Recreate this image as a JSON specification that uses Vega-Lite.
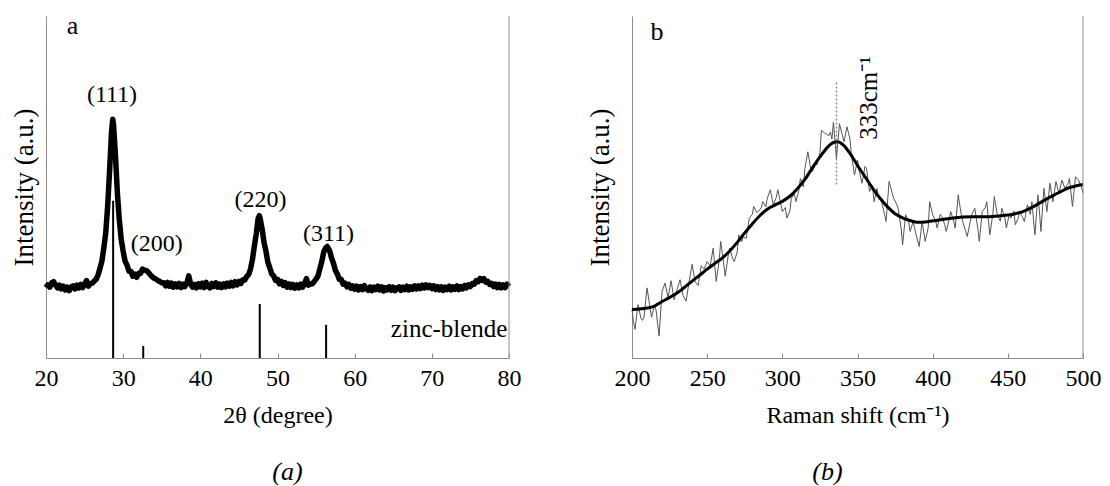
{
  "$schema": "https://vega.github.io/schema/vega-lite/v6.json",
  "background": "white",
  "padding": {"left": 10, "top": 13, "right": 5, "bottom": 2},
  "spacing": 123,
  "bounds": "flush",
  "config": {
    "font": "Liberation Serif, Times New Roman, Times, serif",
    "view": {"stroke": null},
    "axis": {"grid": false, "domainColor": "#8c8c8c", "tickColor": "#8c8c8c", "labelColor": "#000", "titleColor": "#000", "labelFont": "Liberation Serif, Times New Roman, Times, serif", "titleFont": "Liberation Serif, Times New Roman, Times, serif", "labelFontSize": 24, "titleFontSize": 24, "titleFontWeight": "normal"},
    "title": {"font": "Liberation Serif, Times New Roman, Times, serif", "fontWeight": "normal", "color": "#000"},
    "text": {"font": "Liberation Serif, Times New Roman, Times, serif", "color": "#000"}
  },
  "datasets": {
    "xrd": [
      {"x":20.0,"y":20.6},{"x":20.25,"y":21.4},{"x":20.5,"y":20.7},{"x":20.75,"y":22.0},{"x":21.0,"y":22.3},{"x":21.25,"y":21.3},{"x":21.5,"y":20.5},{"x":21.75,"y":21.3},{"x":22.0,"y":20.2},{"x":22.25,"y":21.0},{"x":22.5,"y":19.9},{"x":22.75,"y":20.7},{"x":23.0,"y":19.7},{"x":23.25,"y":20.8},{"x":23.5,"y":21.1},{"x":23.75,"y":20.2},{"x":24.0,"y":21.3},{"x":24.25,"y":20.5},{"x":24.5,"y":21.5},{"x":24.75,"y":20.6},{"x":25.0,"y":21.6},{"x":25.25,"y":22.6},{"x":25.5,"y":21.0},{"x":25.75,"y":21.8},{"x":26.0,"y":21.9},{"x":26.25,"y":22.5},{"x":26.5,"y":23.0},{"x":26.75,"y":24.3},{"x":27.0,"y":26.2},{"x":27.25,"y":28.4},{"x":27.5,"y":32.3},{"x":27.75,"y":36.8},{"x":28.0,"y":44.7},{"x":28.25,"y":55.2},{"x":28.5,"y":66.3},{"x":28.65,"y":69.8},{"x":28.75,"y":68.2},{"x":29.0,"y":59.3},{"x":29.25,"y":48.2},{"x":29.5,"y":40.4},{"x":29.75,"y":34.6},{"x":30.0,"y":31.2},{"x":30.25,"y":28.3},{"x":30.5,"y":27.2},{"x":30.75,"y":25.4},{"x":31.0,"y":25.4},{"x":31.25,"y":23.9},{"x":31.5,"y":24.5},{"x":31.75,"y":23.6},{"x":32.0,"y":24.8},{"x":32.25,"y":24.7},{"x":32.5,"y":26.0},{"x":32.75,"y":25.7},{"x":33.0,"y":25.6},{"x":33.25,"y":25.1},{"x":33.5,"y":24.4},{"x":33.75,"y":23.8},{"x":34.0,"y":23.3},{"x":34.25,"y":23.1},{"x":34.5,"y":22.6},{"x":34.75,"y":22.4},{"x":35.0,"y":22.0},{"x":35.25,"y":22.0},{"x":35.5,"y":21.1},{"x":35.75,"y":22.1},{"x":36.0,"y":21.0},{"x":36.25,"y":21.9},{"x":36.5,"y":20.7},{"x":36.75,"y":21.7},{"x":37.0,"y":20.8},{"x":37.25,"y":21.8},{"x":37.5,"y":20.6},{"x":37.75,"y":21.6},{"x":38.0,"y":20.9},{"x":38.25,"y":21.9},{"x":38.5,"y":24.0},{"x":38.75,"y":21.6},{"x":39.0,"y":20.7},{"x":39.25,"y":21.5},{"x":39.5,"y":20.5},{"x":39.75,"y":21.7},{"x":40.0,"y":20.8},{"x":40.25,"y":21.9},{"x":40.5,"y":20.6},{"x":40.75,"y":22.1},{"x":41.0,"y":21.0},{"x":41.25,"y":20.5},{"x":41.5,"y":21.8},{"x":41.75,"y":20.9},{"x":42.0,"y":22.0},{"x":42.25,"y":20.7},{"x":42.5,"y":21.6},{"x":42.75,"y":20.6},{"x":43.0,"y":21.7},{"x":43.25,"y":20.8},{"x":43.5,"y":21.9},{"x":43.75,"y":21.0},{"x":44.0,"y":22.1},{"x":44.25,"y":21.1},{"x":44.5,"y":22.3},{"x":44.75,"y":21.4},{"x":45.0,"y":22.4},{"x":45.25,"y":21.8},{"x":45.5,"y":22.9},{"x":45.75,"y":22.8},{"x":46.0,"y":23.8},{"x":46.25,"y":24.4},{"x":46.5,"y":26.0},{"x":46.75,"y":28.8},{"x":47.0,"y":32.7},{"x":47.25,"y":36.3},{"x":47.5,"y":40.9},{"x":47.65,"y":41.6},{"x":47.75,"y":40.8},{"x":48.0,"y":37.8},{"x":48.25,"y":33.8},{"x":48.5,"y":31.3},{"x":48.75,"y":28.0},{"x":49.0,"y":26.4},{"x":49.25,"y":24.6},{"x":49.5,"y":24.0},{"x":49.75,"y":22.7},{"x":50.0,"y":23.0},{"x":50.25,"y":21.7},{"x":50.5,"y":22.4},{"x":50.75,"y":21.2},{"x":51.0,"y":22.0},{"x":51.25,"y":20.7},{"x":51.5,"y":21.7},{"x":51.75,"y":20.6},{"x":52.0,"y":21.5},{"x":52.25,"y":20.4},{"x":52.5,"y":21.4},{"x":52.75,"y":20.5},{"x":53.0,"y":21.6},{"x":53.25,"y":20.7},{"x":53.5,"y":21.8},{"x":53.75,"y":23.2},{"x":54.0,"y":21.3},{"x":54.25,"y":21.6},{"x":54.5,"y":21.7},{"x":54.75,"y":22.3},{"x":55.0,"y":23.1},{"x":55.25,"y":24.0},{"x":55.5,"y":26.2},{"x":55.75,"y":28.3},{"x":56.0,"y":31.1},{"x":56.25,"y":32.2},{"x":56.45,"y":32.6},{"x":56.75,"y":31.4},{"x":57.0,"y":29.3},{"x":57.25,"y":27.7},{"x":57.5,"y":25.6},{"x":57.75,"y":24.6},{"x":58.0,"y":23.0},{"x":58.25,"y":23.0},{"x":58.5,"y":21.6},{"x":58.75,"y":21.9},{"x":59.0,"y":20.8},{"x":59.25,"y":21.5},{"x":59.5,"y":20.4},{"x":59.75,"y":21.1},{"x":60.0,"y":20.1},{"x":60.25,"y":21.0},{"x":60.5,"y":19.9},{"x":60.75,"y":20.9},{"x":61.0,"y":20.0},{"x":61.25,"y":21.2},{"x":61.5,"y":20.2},{"x":61.75,"y":19.8},{"x":62.0,"y":20.8},{"x":62.25,"y":19.7},{"x":62.5,"y":20.7},{"x":62.75,"y":20.0},{"x":63.0,"y":21.0},{"x":63.25,"y":19.9},{"x":63.5,"y":20.8},{"x":63.75,"y":19.6},{"x":64.0,"y":20.6},{"x":64.25,"y":19.9},{"x":64.5,"y":20.9},{"x":64.75,"y":19.8},{"x":65.0,"y":20.7},{"x":65.25,"y":19.7},{"x":65.5,"y":20.5},{"x":65.75,"y":20.8},{"x":66.0,"y":19.8},{"x":66.25,"y":20.7},{"x":66.5,"y":20.0},{"x":66.75,"y":21.0},{"x":67.0,"y":19.9},{"x":67.25,"y":20.8},{"x":67.5,"y":20.1},{"x":67.75,"y":21.1},{"x":68.0,"y":20.2},{"x":68.25,"y":21.1},{"x":68.5,"y":20.3},{"x":68.75,"y":21.3},{"x":69.0,"y":20.5},{"x":69.25,"y":21.4},{"x":69.5,"y":20.6},{"x":69.75,"y":21.2},{"x":70.0,"y":20.3},{"x":70.25,"y":21.1},{"x":70.5,"y":20.0},{"x":70.75,"y":20.9},{"x":71.0,"y":19.9},{"x":71.25,"y":20.8},{"x":71.5,"y":19.8},{"x":71.75,"y":20.7},{"x":72.0,"y":20.0},{"x":72.25,"y":21.0},{"x":72.5,"y":19.9},{"x":72.75,"y":20.8},{"x":73.0,"y":20.1},{"x":73.25,"y":21.1},{"x":73.5,"y":20.0},{"x":73.75,"y":20.9},{"x":74.0,"y":20.2},{"x":74.25,"y":21.2},{"x":74.5,"y":20.5},{"x":74.75,"y":21.4},{"x":75.0,"y":20.9},{"x":75.25,"y":21.8},{"x":75.5,"y":21.6},{"x":75.75,"y":22.6},{"x":76.0,"y":22.3},{"x":76.25,"y":23.3},{"x":76.5,"y":22.7},{"x":76.75,"y":23.2},{"x":77.0,"y":22.2},{"x":77.25,"y":22.4},{"x":77.5,"y":21.5},{"x":77.75,"y":21.8},{"x":78.0,"y":20.9},{"x":78.25,"y":21.6},{"x":78.5,"y":20.6},{"x":78.75,"y":21.5},{"x":79.0,"y":20.5},{"x":79.25,"y":21.4},{"x":79.5,"y":20.6},{"x":79.75,"y":21.6},{"x":80.0,"y":20.9}
    ],
    "sticks": [
      {"x":28.7,"h":46.0},{"x":32.6,"h":3.5},{"x":47.7,"h":15.8},{"x":56.3,"h":9.7}
    ],
    "labA": [
      {"x":28.55,"y":77.0,"t":"(111)"},{"x":34.35,"y":33.2,"t":"(200)"},{"x":47.8,"y":46.2,"t":"(220)"},{"x":56.6,"y":36.3,"t":"(311)"}
    ],
    "raman": [
      {"x":200,"y":14.2},{"x":201,"y":10.5},{"x":202,"y":8.4},{"x":204,"y":15.6},{"x":206,"y":11.5},{"x":207,"y":11.0},{"x":208,"y":12.0},{"x":210,"y":20.5},{"x":212,"y":14.8},{"x":213,"y":11.9},{"x":215,"y":15.4},{"x":216,"y":14.0},{"x":218,"y":6.4},{"x":220,"y":19.5},{"x":222,"y":21.9},{"x":224,"y":17.6},{"x":226,"y":22.6},{"x":228,"y":17.0},{"x":230,"y":20.0},{"x":232,"y":22.9},{"x":234,"y":18.2},{"x":236,"y":16.6},{"x":238,"y":22.4},{"x":240,"y":27.4},{"x":242,"y":22.3},{"x":244,"y":21.2},{"x":246,"y":27.0},{"x":248,"y":26.0},{"x":250,"y":28.2},{"x":252,"y":27.0},{"x":254,"y":32.1},{"x":256,"y":22.4},{"x":258,"y":28.5},{"x":259,"y":34.1},{"x":261,"y":27.5},{"x":262,"y":23.9},{"x":264,"y":30.0},{"x":265,"y":32.1},{"x":267,"y":29.0},{"x":268,"y":28.2},{"x":270,"y":31.0},{"x":271,"y":36.0},{"x":273,"y":34.0},{"x":274,"y":35.5},{"x":276,"y":35.0},{"x":278,"y":40.9},{"x":280,"y":42.0},{"x":281,"y":44.3},{"x":283,"y":42.5},{"x":284,"y":42.8},{"x":286,"y":44.0},{"x":287,"y":45.7},{"x":289,"y":44.2},{"x":290,"y":46.7},{"x":292,"y":49.2},{"x":294,"y":44.8},{"x":296,"y":47.0},{"x":297,"y":49.2},{"x":299,"y":45.0},{"x":300,"y":42.8},{"x":302,"y":44.0},{"x":303,"y":40.9},{"x":305,"y":43.0},{"x":306,"y":46.7},{"x":308,"y":48.0},{"x":309,"y":45.7},{"x":311,"y":49.0},{"x":312,"y":52.5},{"x":314,"y":50.0},{"x":315,"y":55.4},{"x":317,"y":60.3},{"x":319,"y":55.0},{"x":320,"y":54.5},{"x":322,"y":57.0},{"x":323,"y":56.4},{"x":325,"y":60.0},{"x":326,"y":66.6},{"x":328,"y":65.8},{"x":329,"y":65.6},{"x":331,"y":65.0},{"x":332,"y":66.1},{"x":333,"y":64.0},{"x":334,"y":69.0},{"x":336,"y":58.3},{"x":338,"y":68.5},{"x":340,"y":65.0},{"x":341,"y":63.2},{"x":343,"y":67.6},{"x":345,"y":64.0},{"x":346,"y":59.3},{"x":348,"y":53.5},{"x":350,"y":57.9},{"x":351,"y":55.0},{"x":353,"y":51.1},{"x":355,"y":56.0},{"x":356,"y":55.4},{"x":358,"y":48.7},{"x":360,"y":50.5},{"x":361,"y":45.7},{"x":363,"y":49.6},{"x":364,"y":47.0},{"x":366,"y":45.7},{"x":368,"y":42.0},{"x":369,"y":39.9},{"x":371,"y":51.6},{"x":372,"y":50.0},{"x":374,"y":46.7},{"x":376,"y":45.0},{"x":377,"y":43.8},{"x":379,"y":38.0},{"x":380,"y":33.1},{"x":382,"y":41.9},{"x":384,"y":40.0},{"x":385,"y":37.0},{"x":387,"y":39.9},{"x":389,"y":36.0},{"x":391,"y":32.6},{"x":393,"y":39.9},{"x":395,"y":34.1},{"x":397,"y":38.0},{"x":398,"y":45.7},{"x":400,"y":41.9},{"x":402,"y":40.0},{"x":403,"y":38.0},{"x":405,"y":42.0},{"x":406,"y":41.4},{"x":408,"y":39.0},{"x":409,"y":37.0},{"x":411,"y":40.5},{"x":412,"y":42.8},{"x":414,"y":40.0},{"x":415,"y":38.0},{"x":417,"y":47.7},{"x":419,"y":42.0},{"x":420,"y":39.9},{"x":422,"y":37.0},{"x":423,"y":35.5},{"x":425,"y":40.0},{"x":426,"y":41.9},{"x":428,"y":43.8},{"x":430,"y":38.0},{"x":431,"y":34.1},{"x":433,"y":42.8},{"x":435,"y":44.0},{"x":436,"y":45.7},{"x":438,"y":36.0},{"x":440,"y":42.0},{"x":441,"y":47.2},{"x":443,"y":41.9},{"x":445,"y":40.0},{"x":446,"y":43.8},{"x":448,"y":41.0},{"x":449,"y":38.0},{"x":451,"y":42.0},{"x":452,"y":40.9},{"x":454,"y":43.0},{"x":455,"y":39.0},{"x":457,"y":41.0},{"x":458,"y":42.8},{"x":460,"y":41.0},{"x":461,"y":39.9},{"x":463,"y":44.8},{"x":465,"y":42.0},{"x":466,"y":45.7},{"x":468,"y":36.0},{"x":470,"y":47.7},{"x":471,"y":43.0},{"x":472,"y":37.0},{"x":474,"y":49.6},{"x":476,"y":42.8},{"x":478,"y":51.1},{"x":480,"y":45.7},{"x":482,"y":51.6},{"x":484,"y":48.2},{"x":486,"y":52.0},{"x":488,"y":49.6},{"x":490,"y":51.0},{"x":491,"y":52.5},{"x":493,"y":44.3},{"x":495,"y":53.0},{"x":497,"y":52.0},{"x":499,"y":50.0},{"x":500,"y":48.2}
    ],
    "smooth": [
      {"x":200,"y":14.2},{"x":205,"y":14.3},{"x":210,"y":14.6},{"x":215,"y":15.2},{"x":220,"y":16.5},{"x":225,"y":17.7},{"x":230,"y":19.0},{"x":235,"y":20.7},{"x":240,"y":22.5},{"x":245,"y":24.2},{"x":250,"y":26.0},{"x":255,"y":27.6},{"x":260,"y":29.2},{"x":265,"y":31.3},{"x":270,"y":33.8},{"x":275,"y":36.6},{"x":280,"y":39.2},{"x":285,"y":41.6},{"x":290,"y":43.5},{"x":295,"y":44.7},{"x":300,"y":45.8},{"x":305,"y":47.3},{"x":310,"y":49.5},{"x":315,"y":52.2},{"x":320,"y":55.6},{"x":325,"y":58.8},{"x":330,"y":61.6},{"x":334,"y":63.0},{"x":337,"y":63.2},{"x":340,"y":62.5},{"x":345,"y":59.8},{"x":350,"y":56.3},{"x":355,"y":53.0},{"x":360,"y":49.7},{"x":365,"y":46.7},{"x":370,"y":44.2},{"x":375,"y":42.2},{"x":380,"y":41.0},{"x":385,"y":40.2},{"x":390,"y":39.7},{"x":395,"y":39.8},{"x":400,"y":40.1},{"x":410,"y":40.7},{"x":420,"y":41.2},{"x":430,"y":41.3},{"x":440,"y":41.4},{"x":450,"y":41.8},{"x":455,"y":42.2},{"x":460,"y":42.8},{"x":465,"y":43.8},{"x":470,"y":45.0},{"x":475,"y":46.3},{"x":480,"y":47.5},{"x":485,"y":48.6},{"x":490,"y":49.7},{"x":495,"y":50.3},{"x":500,"y":50.7}
    ]
  },
  "hconcat": [
    {
      "width": 463,
      "height": 342,
      "title": {"text": "(a)", "orient": "bottom", "anchor": "middle", "fontStyle": "italic", "fontSize": 26, "offset": 32, "dx": 10},
      "layer": [
        {
          "data": {"name": "xrd"},
          "mark": {"type": "line", "color": "#000", "strokeWidth": 5.5, "strokeJoin": "round"},
          "encoding": {
            "x": {"field": "x", "type": "quantitative", "scale": {"domain": [20, 80], "nice": false, "zero": false},
              "axis": {"title": "2θ (degree)", "values": [20,25,30,35,40,45,50,55,60,65,70,75,80], "labelExpr": "datum.value % 10 === 0 ? datum.label : ''", "tickSize": -5, "labelPadding": 13, "titlePadding": 13, "labelFlush": false, "labelOverlap": false}},
            "y": {"field": "y", "type": "quantitative", "scale": {"domain": [0, 100], "nice": false},
              "axis": {"title": "Intensity (a.u.)", "ticks": false, "labels": false, "titleFontSize": 27, "titlePadding": 8}}
          }
        },
        {
          "data": {"name": "sticks"},
          "mark": {"type": "rule", "color": "#000", "strokeWidth": 2},
          "encoding": {"x": {"field": "x", "type": "quantitative"}, "y": {"field": "h", "type": "quantitative"}, "y2": {"datum": 0}}
        },
        {
          "data": {"name": "labA"},
          "mark": {"type": "text", "fontSize": 24, "align": "center", "baseline": "middle"},
          "encoding": {"x": {"field": "x", "type": "quantitative"}, "y": {"field": "y", "type": "quantitative"}, "text": {"field": "t"}}
        },
        {
          "data": {"values": [{"x": 79.8, "y": 6.1, "t": "zinc-blende"}]},
          "mark": {"type": "text", "fontSize": 25, "align": "right", "baseline": "alphabetic"},
          "encoding": {"x": {"field": "x", "type": "quantitative"}, "y": {"field": "y", "type": "quantitative"}, "text": {"field": "t"}}
        },
        {
          "data": {"values": [{"x": 23.45, "y": 94.7, "t": "a"}]},
          "mark": {"type": "text", "fontSize": 26, "align": "center", "baseline": "alphabetic"},
          "encoding": {"x": {"field": "x", "type": "quantitative"}, "y": {"field": "y", "type": "quantitative"}, "text": {"field": "t"}}
        },
        {
          "data": {"values": [{}]},
          "mark": {"type": "rule", "color": "#8c8c8c", "strokeWidth": 1},
          "encoding": {"x": {"datum": 80}, "y": {"datum": 0}, "y2": {"datum": 100}}
        }
      ]
    },
    {
      "width": 451,
      "height": 342,
      "title": {"text": "(b)", "orient": "bottom", "anchor": "middle", "fontStyle": "italic", "fontSize": 26, "offset": 32, "dx": -30},
      "layer": [
        {
          "data": {"name": "raman"},
          "mark": {"type": "line", "color": "#555", "strokeWidth": 1},
          "encoding": {
            "x": {"field": "x", "type": "quantitative", "scale": {"domain": [200, 500], "nice": false, "zero": false},
              "axis": {"title": "Raman shift (cm⁻¹)", "values": [200,225,250,275,300,325,350,375,400,425,450,475,500], "labelExpr": "datum.value % 50 === 0 ? datum.label : ''", "tickSize": -5, "labelPadding": 13, "titlePadding": 13, "labelFlush": false, "labelOverlap": false}},
            "y": {"field": "y", "type": "quantitative", "scale": {"domain": [0, 100], "nice": false},
              "axis": {"title": "Intensity (a.u.)", "ticks": false, "labels": false, "titleFontSize": 27, "titlePadding": 18}}
          }
        },
        {
          "data": {"name": "smooth"},
          "mark": {"type": "line", "color": "#000", "strokeWidth": 3, "interpolate": "monotone"},
          "encoding": {"x": {"field": "x", "type": "quantitative"}, "y": {"field": "y", "type": "quantitative"}}
        },
        {
          "data": {"values": [{"x": 336, "y1": 50.7, "y2": 80.8}]},
          "mark": {"type": "rule", "color": "#777", "strokeWidth": 1.2, "strokeDash": [2, 2]},
          "encoding": {"x": {"field": "x", "type": "quantitative"}, "y": {"field": "y1", "type": "quantitative"}, "y2": {"field": "y2"}}
        },
        {
          "data": {"values": [{"x": 357.7, "y": 76, "t": "333cm⁻¹"}]},
          "mark": {"type": "text", "fontSize": 25, "angle": 270, "align": "center", "baseline": "middle"},
          "encoding": {"x": {"field": "x", "type": "quantitative"}, "y": {"field": "y", "type": "quantitative"}, "text": {"field": "t"}}
        },
        {
          "data": {"values": [{"x": 216.6, "y": 93, "t": "b"}]},
          "mark": {"type": "text", "fontSize": 26, "align": "center", "baseline": "alphabetic"},
          "encoding": {"x": {"field": "x", "type": "quantitative"}, "y": {"field": "y", "type": "quantitative"}, "text": {"field": "t"}}
        },
        {
          "data": {"values": [{}]},
          "mark": {"type": "rule", "color": "#8c8c8c", "strokeWidth": 1},
          "encoding": {"x": {"datum": 500}, "y": {"datum": 0}, "y2": {"datum": 100}}
        }
      ]
    }
  ]
}
